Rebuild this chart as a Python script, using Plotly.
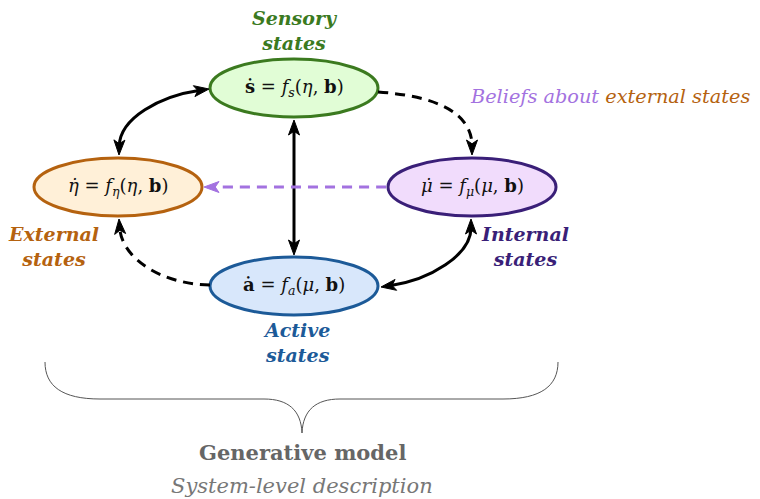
import math
import plotly.graph_objects as go

# ---------------- content ----------------
node_keys = ["sensory", "external", "internal", "active"]
node_titles = ["Sensory<br>states", "External<br>states", "Internal<br>states", "Active<br>states"]
node_equations = [
    "<b>s\u0307</b> = <i>f</i><sub><i>s</i></sub>(<i>\u03b7</i>, <b>b</b>)",
    "<i>\u03b7\u0307</i> = <i>f</i><sub><i>\u03b7</i></sub>(<i>\u03b7</i>, <b>b</b>)",
    "<i>\u03bc\u0307</i> = <i>f</i><sub><i>\u03bc</i></sub>(<i>\u03bc</i>, <b>b</b>)",
    "<b>a\u0307</b> = <i>f</i><sub><i>a</i></sub>(<i>\u03bc</i>, <b>b</b>)",
]
# edges: (from, to, kind)
edge_from = ["sensory", "sensory", "sensory", "internal", "internal", "active"]
edge_to = ["external", "internal", "active", "active", "external", "external"]
edge_kind = ["both", "dashed", "both", "both", "belief", "dashed"]
belief_text_a = "Beliefs about"
belief_text_b = "external states"
summary_title = "Generative model"
summary_sub = "System-level description"

# ---------------- layout / style ----------------
W, H = 760, 499
OFF = 8  # page body margin compensation
FONT = "DejaVu Serif"
centers = {"sensory": (294, 88), "external": (118, 187), "internal": (472, 187), "active": (294, 286)}
radii = (84, 29)
fills = {"sensory": "#e1fdd6", "external": "#fff0d8", "internal": "#f1dcfc", "active": "#d8e7fb"}
borders = {"sensory": "#3b7a1f", "external": "#b5620f", "internal": "#3a1f78", "active": "#1c5a98"}
title_pos = {"sensory": (295, 30), "external": (53, 246), "internal": (525, 246), "active": (296, 342)}
BELIEF = "#a372e0"

fig = go.Figure()
shapes = []
annotations = []

for k, title, eq in zip(node_keys, node_titles, node_equations):
    cx, cy = centers[k]
    rx, ry = radii
    shapes.append(dict(type="circle", xref="x", yref="y", x0=cx - rx, x1=cx + rx, y0=cy - ry, y1=cy + ry,
                       fillcolor=fills[k], line=dict(color=borders[k], width=3), layer="above"))
    annotations.append(dict(x=cx, y=cy, text=eq, showarrow=False, xref="x", yref="y",
                            font=dict(family=FONT, size=18, color="#111")))
    tx, ty = title_pos[k]
    annotations.append(dict(x=tx, y=ty, text="<b><i>" + title + "</i></b>", showarrow=False, xref="x", yref="y",
                            font=dict(family=FONT, size=19, color=borders[k])))


def head(tip, d, color, L=15, Wd=5.5):
    n = math.hypot(*d)
    dx, dy = d[0] / n, d[1] / n
    bx, by = tip[0] - L * dx, tip[1] - L * dy
    px, py = -dy, dx
    p1 = (bx + Wd * px, by + Wd * py)
    p2 = (bx - Wd * px, by - Wd * py)
    m = (tip[0] - 0.75 * L * dx, tip[1] - 0.75 * L * dy)
    return dict(type="path", xref="x", yref="y",
                path=f"M {tip[0]},{tip[1]} L {p1[0]},{p1[1]} L {m[0]},{m[1]} L {p2[0]},{p2[1]} Z",
                fillcolor=color, line=dict(color=color, width=1), layer="above")


def unit(a, b):
    n = math.hypot(b[0] - a[0], b[1] - a[1])
    return ((b[0] - a[0]) / n, (b[1] - a[1]) / n)


def curve(P0, P1, P2, P3, color, dash, start_head, end_head):
    d_end = unit(P2, P3)
    d_start = unit(P1, P0)
    s = P0
    e = P3
    if start_head:
        s = (P0[0] - 9 * d_start[0], P0[1] - 9 * d_start[1])
    if end_head:
        e = (P3[0] - 9 * d_end[0], P3[1] - 9 * d_end[1])
    shapes.append(dict(type="path", xref="x", yref="y",
                       path=f"M {s[0]},{s[1]} C {P1[0]},{P1[1]} {P2[0]},{P2[1]} {e[0]},{e[1]}",
                       line=dict(color=color, width=3, dash=dash), layer="above"))
    if start_head:
        shapes.append(head(P0, d_start, color))
    if end_head:
        shapes.append(head(P3, d_end, color))


# geometry of each edge (control points for a cubic), in the same order as edge lists
edge_geom = [
    ((209, 89), (160, 96), (120, 118), (119, 155)),       # sensory <-> external
    ((378, 92), (435, 96), (472, 112), (472, 155)),       # sensory -> internal
    ((294, 120), (294, 160), (294, 215), (294, 255)),     # sensory <-> active
    ((471, 219), (471, 255), (430, 280), (381, 287)),     # internal <-> active
    ((386, 187), (330, 187), (260, 187), (204, 187)),     # internal -> external (beliefs)
    ((210, 285), (160, 284), (122, 258), (119, 219)),     # active -> external
]

for f, t, kind, g in zip(edge_from, edge_to, edge_kind, edge_geom):
    if kind == "both":
        curve(*g, color="black", dash="solid", start_head=True, end_head=True)
    elif kind == "dashed":
        curve(*g, color="black", dash="10px,7px", start_head=False, end_head=True)
    else:
        curve(*g, color=BELIEF, dash="10px,7px", start_head=False, end_head=True)

annotations.append(dict(x=610, y=96, xref="x", yref="y", showarrow=False,
                        text=f"<i><span style='color:{BELIEF}'>{belief_text_a}</span> "
                             f"<span style='color:{borders['external']}'>{belief_text_b}</span></i>",
                        font=dict(family=FONT, size=19.3)))

# brace
shapes.append(dict(type="path", xref="x", yref="y",
                   path="M 45,362 C 45,386 62,399 100,399 L 264,399 C 288,399 301,410 302,433 "
                        "C 303,410 316,399 340,399 L 503,399 C 541,399 558,386 558,362",
                   line=dict(color="#555", width=1)))
annotations.append(dict(x=302, y=452, xref="x", yref="y", showarrow=False,
                        text=f"<b>{summary_title}</b>", font=dict(family=FONT, size=21, color="#666")))
annotations.append(dict(x=302, y=486, xref="x", yref="y", showarrow=False,
                        text=f"<i>{summary_sub}</i>", font=dict(family=FONT, size=21, color="#777")))

fig.update_layout(
    width=W, height=H, margin=dict(l=0, r=0, t=0, b=0),
    paper_bgcolor="white", plot_bgcolor="white",
    xaxis=dict(range=[OFF, W + OFF], visible=False, fixedrange=True),
    yaxis=dict(range=[H + OFF, OFF], visible=False, fixedrange=True),
    shapes=shapes, annotations=annotations, showlegend=False,
)
fig.write_html("out.html")
